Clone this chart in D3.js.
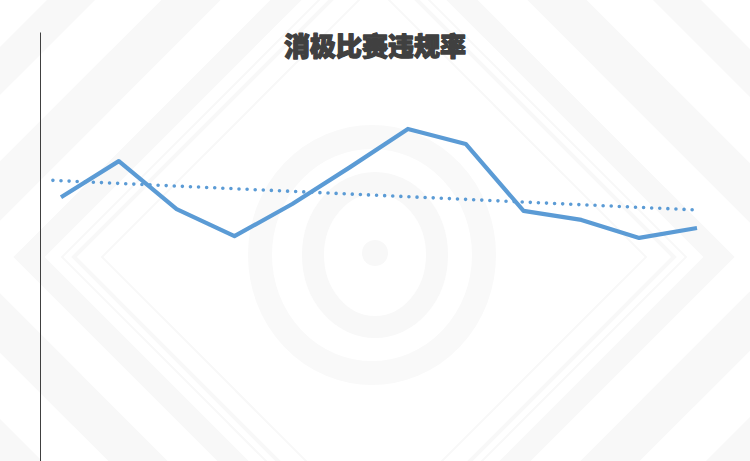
<!DOCTYPE html>
<html>
<head>
<meta charset="utf-8">
<script src="https://cdn.jsdelivr.net/npm/d3@7"></script>
<style>
  html, body { margin: 0; padding: 0; background: #ffffff; }
  svg { display: block; }
</style>
</head>
<body>
<svg id="chart" width="750" height="461"></svg>
<script>
// ---- data ----
const title = "消极比赛违规率";
const categories = ["1","2","3","4","5","6","7","8","9","10","11","12"];
const rates = [6.15, 6.99, 5.87, 5.24, 5.99, 6.85, 7.74, 7.39, 5.83, 5.62, 5.20, 5.43];
const yDomain = [0, 10];
const trendBackward = 0.14; // periods the trendline extends before the first point

// ---- layout ----
const W = 750, H = 461;
const svg = d3.select("#chart");

// background watermark (decorative)
const bg = svg.append("g").attr("class", "bg");
const cx = 374, cy = 257;
function diamond(d) {
  return `M${cx - d},${cy} L${cx},${cy - d} L${cx + d},${cy} L${cx},${cy + d} Z`;
}
const rings = [
  {d: 272, w: 2}, {d: 300, w: 4}, {d: 312, w: 2},
  {d: 345, w: 22}, {d: 440, w: 42}, {d: 560, w: 34}, {d: 660, w: 30}
];
bg.selectAll("path.ring").data(rings).join("path")
  .attr("class", "ring")
  .attr("d", r => diamond(r.d))
  .attr("fill", "none")
  .attr("stroke", "#f8f8f8")
  .attr("stroke-width", r => r.w);
// logo
bg.append("ellipse").attr("cx", 372).attr("cy", 255).attr("rx", 112).attr("ry", 118)
  .attr("fill", "none").attr("stroke", "#f9f9f9").attr("stroke-width", 24);
bg.append("ellipse").attr("cx", 375).attr("cy", 255).attr("rx", 62).attr("ry", 72)
  .attr("fill", "none").attr("stroke", "#f8f8f8").attr("stroke-width", 22);
bg.append("circle").attr("cx", 375).attr("cy", 253).attr("r", 13).attr("fill", "#f8f8f8");

// scales
const x = d3.scalePoint().domain(categories).range([61, 697]);
const y = d3.scaleLinear().domain(yDomain).range([461, 32]);
const xi = d3.scaleLinear().domain([0, categories.length - 1]).range([x(categories[0]), x(categories[categories.length - 1])]);

// y axis (line only)
const yAxis = svg.append("g")
  .attr("transform", "translate(40,0)")
  .call(d3.axisLeft(y).ticks(0).tickSize(0).tickSizeOuter(0));
yAxis.select(".domain").attr("stroke", "#404040").attr("stroke-width", 1);
yAxis.selectAll("text").remove();

// trendline: least-squares regression on the data
const n = rates.length;
const mx = d3.mean(rates, (d, i) => i);
const my = d3.mean(rates);
let sxy = 0, sxx = 0;
rates.forEach((v, i) => { sxy += (i - mx) * (v - my); sxx += (i - mx) * (i - mx); });
const slope = sxy / sxx, intercept = my - slope * mx;
const trendPts = [-trendBackward, n - 1].map(i => [i, intercept + slope * i]);

svg.append("path")
  .datum(trendPts)
  .attr("d", d3.line().x(d => xi(d[0])).y(d => y(d[1])))
  .attr("fill", "none")
  .attr("stroke", "#5b9bd5")
  .attr("stroke-width", 3.6)
  .attr("stroke-linecap", "round")
  .attr("stroke-dasharray", "0 8.1");

// series line
svg.append("path")
  .datum(rates)
  .attr("d", d3.line().x((d, i) => x(categories[i])).y(d => y(d)))
  .attr("fill", "none")
  .attr("stroke", "#5b9bd5")
  .attr("stroke-width", 4.2)
  .attr("stroke-linejoin", "round");

// title
svg.append("text")
  .attr("x", 375).attr("y", 56)
  .attr("text-anchor", "middle")
  .attr("font-family", "'Noto Sans CJK SC', sans-serif")
  .attr("font-weight", 900)
  .attr("font-size", 26)
  .attr("fill", "#404040")
  .attr("stroke", "#404040")
  .attr("stroke-width", 1.3)
  .attr("stroke-linejoin", "round")
  .text(title);
</script>
</body>
</html>
